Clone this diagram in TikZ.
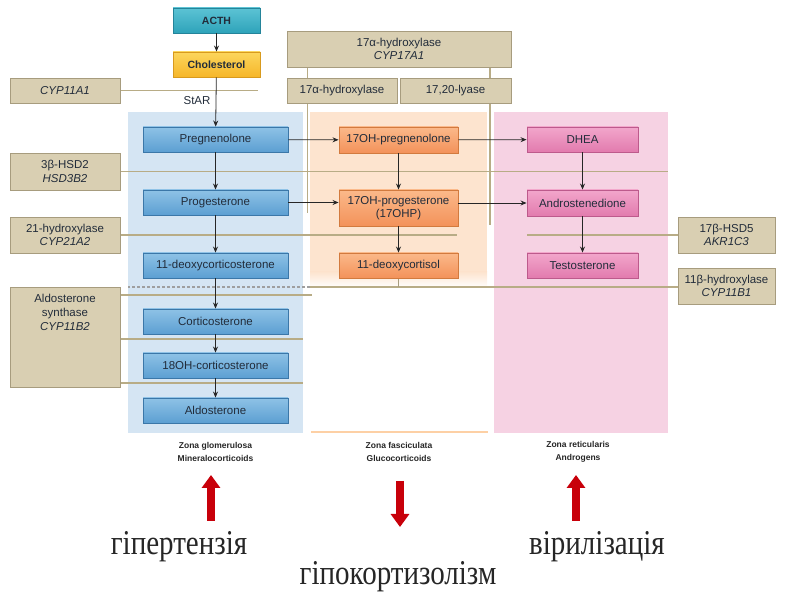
\documentclass[tikz,border=0pt]{standalone}
\usepackage{fontspec}
\setmainfont{Liberation Sans}
\newfontfamily\cyrfont{Liberation Serif}
\usetikzlibrary{arrows.meta,positioning}
\definecolor{zblue}{HTML}{D5E5F3}
\definecolor{zorange}{HTML}{FDE4CF}
\definecolor{zpink}{HTML}{F6D2E3}
\definecolor{blueA}{HTML}{8EC2E6}
\definecolor{blueB}{HTML}{5C9FD2}
\definecolor{blueD}{HTML}{3B77A8}
\definecolor{orA}{HTML}{FBB98A}
\definecolor{orB}{HTML}{F3925A}
\definecolor{orD}{HTML}{D27A3E}
\definecolor{pkA}{HTML}{F2A6CB}
\definecolor{pkB}{HTML}{E27BAE}
\definecolor{pkD}{HTML}{BD5A8C}
\definecolor{tanF}{HTML}{D9CFB2}
\definecolor{tanD}{HTML}{A79C7E}
\definecolor{tanL}{HTML}{B8AC86}
\definecolor{tealA}{HTML}{5CC3D4}
\definecolor{tealB}{HTML}{2EA3BA}
\definecolor{tealD}{HTML}{24849A}
\definecolor{yelA}{HTML}{FCD65C}
\definecolor{yelB}{HTML}{F6B62A}
\definecolor{yelD}{HTML}{D89A1E}
\definecolor{txt}{HTML}{222C3A}
\definecolor{redA}{HTML}{C8000A}
\pgfdeclarelayer{zones}
\pgfdeclarelayer{lines}
\pgfsetlayers{zones,lines,main}
\begin{document}
\begin{tikzpicture}[x=1pt,y=-1pt,
  box/.style={draw, line width=0.9pt, minimum height=25pt, inner sep=1pt,
    font=\fontsize{11.5}{13}\selectfont, text=txt, align=center},
  bluebox/.style={box, draw=blueD, top color=blueA, bottom color=blueB, minimum width=145pt},
  orbox/.style={box, draw=orD, top color=orA, bottom color=orB, minimum width=119pt},
  pkbox/.style={box, draw=pkD, top color=pkA, bottom color=pkB, minimum width=111pt},
  enz/.style={box, draw=tanD, fill=tanF, minimum width=110pt, font=\fontsize{11.5}{13.5}\selectfont},
  enzr/.style={enz, minimum width=97pt},
  tline/.style={draw=tanL, line width=1.6pt},
  arr/.style={-{Stealth[length=6pt,width=5pt]}, line width=0.8pt, draw=black!85},
  zlab/.style={font=\bfseries\fontsize{8.5}{13}\selectfont, align=center, text=black!85},
  redarr/.style={draw=redA, line width=8pt, -{Triangle[length=13pt,width=18pt]}},
  cyr/.style={font=\cyrfont\fontsize{29}{30}\selectfont, text=black!85}
]
\useasboundingbox (0,0) rectangle (785,593);

% ---------- zones ----------
\begin{pgfonlayer}{zones}
\fill[zblue] (128,112) rectangle (303,433);
\fill[zorange] (310,112) rectangle (487,272);
\shade[top color=zorange, bottom color=white] (310,272) rectangle (487,288);
\draw[zorange!80!orange, line width=1.2pt] (311,432) -- (488,432);
\fill[zpink] (494,112) rectangle (668,433);
\end{pgfonlayer}

% ---------- main nodes ----------
\node[box, draw=tealD, top color=tealA, bottom color=tealB, minimum width=87pt, font=\bfseries\fontsize{10.5}{12}\selectfont] (acth) at (216.5,20.5) {ACTH};
\node[box, draw=yelD, top color=yelA, bottom color=yelB, minimum width=87pt, font=\bfseries\fontsize{10.5}{12}\selectfont] (chol) at (216.5,64.5) {Cholesterol};

\node[enz] (cyp11a1) at (65,90.5) {\textit{CYP11A1}};
\node[enz, minimum width=224pt, minimum height=36pt] (cyp17) at (399,49) {17α-hydroxylase\\\textit{CYP17A1}};
\node[enz] (hyd17) at (342,90.5) {17α-hydroxylase};
\node[enz, minimum width=111pt] (lyase) at (455.5,90.5) {17,20-lyase};
\node[enz, minimum height=37pt] (hsd) at (65,171.5) {3β-HSD2\\\textit{HSD3B2}};
\node[enz, minimum height=36pt] (h21) at (65,235) {21-hydroxylase\\\textit{CYP21A2}};
\node[enz, minimum height=100pt] (aldsyn) at (65,337) {};
\node[font=\fontsize{11.5}{14}\selectfont, text=txt, align=center, anchor=north] (aldsyntxt) at (65,291) {Aldosterone\\synthase\\\textit{CYP11B2}};
\node[enzr, minimum height=36pt] (hsd5) at (726.5,235) {17β-HSD5\\\textit{AKR1C3}};
\node[enzr, minimum height=36pt] (b1) at (726.5,286) {11β-hydroxylase\\\textit{CYP11B1}};

\node[text=txt, font=\fontsize{11.5}{13}\selectfont] (star) at (197,100.5) {StAR};

\node[bluebox] (preg) at (215.5,139.5) {Pregnenolone};
\node[bluebox] (prog) at (215.5,202.5) {Progesterone};
\node[bluebox] (doc)  at (215.5,265.5) {11-deoxycorticosterone};
\node[bluebox] (cort) at (215.5,321.5) {Corticosterone};
\node[bluebox] (ohc)  at (215.5,365.5) {18OH-corticosterone};
\node[bluebox] (aldo) at (215.5,410.5) {Aldosterone};

\node[orbox, minimum height=26pt] (ohpreg) at (398.5,140) {17OH-pregnenolone};
\node[orbox, minimum height=36pt, font=\fontsize{11.5}{12.5}\selectfont] (ohp) at (398.5,208) {17OH-progesterone\\(17OHP)};
\node[orbox] (dcort) at (398.5,265.5) {11-deoxycortisol};

\node[pkbox] (dhea) at (582.5,139.5) {DHEA};
\node[pkbox, minimum height=26pt] (andro) at (582.5,203) {Androstenedione};
\node[pkbox] (testo) at (582.5,265.5) {Testosterone};

% ---------- enzyme lines ----------
\begin{pgfonlayer}{lines}
\coordinate (l1) at (258,90.5);
\draw[tline] (cyp11a1.east) -- (l1);
\coordinate (l2) at (668,171.5);
\draw[tline] (hsd.east) -- (l2);
\coordinate (l3) at (457,235);
\draw[tline] (h21.east) -- (l3);
\coordinate (l4) at (527,235);
\draw[tline] (hsd5.west) -- (l4);
\coordinate (l5) at (310,287);
\draw[tline] (b1.west |- l5) -- (l5);
\coordinate (l5b) at (128,287);
\draw[gray!75, line width=1.2pt, dash pattern=on 3pt off 2pt] (l5) -- (l5b);
\coordinate (l6a) at (120,295);
\coordinate (l6b) at (312,295);
\draw[tline] (l6a) -- (l6b);
\coordinate (l7a) at (120,339);
\coordinate (l7b) at (303,339);
\draw[tline] (l7a) -- (l7b);
\coordinate (l8a) at (120,383);
\coordinate (l8b) at (303,383);
\draw[tline] (l8a) -- (l8b);
\coordinate (v1a) at (307.5,67);
\coordinate (v1b) at (307.5,213);
\draw[tline] (v1a) -- (v1b);
\coordinate (v2a) at (490,67);
\coordinate (v2b) at (490,225);
\draw[tline] (v2a) -- (v2b);
\coordinate (dce) at (398.5,287);
\draw[draw=tanD, line width=1pt] (dcort.south) -- (dce);
\end{pgfonlayer}

% ---------- arrows ----------
\draw[arr] (acth) -- (chol);
\draw[arr] (chol) -- (preg);
\draw[arr] (preg) -- (prog);
\draw[arr] (prog) -- (doc);
\draw[arr] (doc) -- (cort);
\draw[arr] (cort) -- (ohc);
\draw[arr] (ohc) -- (aldo);
\draw[arr] (preg) -- (ohpreg);
\draw[arr] (ohpreg) -- (dhea);
\draw[arr] (prog.east) -- (prog.east -| ohp.west);
\draw[arr] (ohp.east |- andro.west) -- (andro.west);
\draw[arr] (ohpreg) -- (ohp);
\draw[arr] (ohp) -- (dcort);
\draw[arr] (dhea) -- (andro);
\draw[arr] (andro) -- (testo);

% ---------- zone labels ----------
\node[zlab] (zg) at (215.5,452) {Zona glomerulosa\\Mineralocorticoids};
\node[zlab] (zf) at (399,452) {Zona fasciculata\\Glucocorticoids};
\node[zlab] (zr) at (578,452) {Zona reticularis\\Androgens};

% ---------- red arrows ----------
\coordinate (r1a) at (211,521);
\coordinate (r1b) at (211,475);
\draw[redarr] (r1a) -- (r1b);
\coordinate (r2a) at (400,481);
\coordinate (r2b) at (400,527);
\draw[redarr] (r2a) -- (r2b);
\coordinate (r3a) at (576,521);
\coordinate (r3b) at (576,475);
\draw[redarr] (r3a) -- (r3b);

% ---------- effects ----------
\node[cyr] (hyp) at (179,547) {\scalebox{1}[1.2]{гіпертензія}};
\node[cyr] (vir) at (597,547) {\scalebox{1}[1.2]{вірилізація}};
\node[cyr] (hypo) at (398,577) {\scalebox{1}[1.2]{гіпокортизолізм}};
\end{tikzpicture}
\end{document}
